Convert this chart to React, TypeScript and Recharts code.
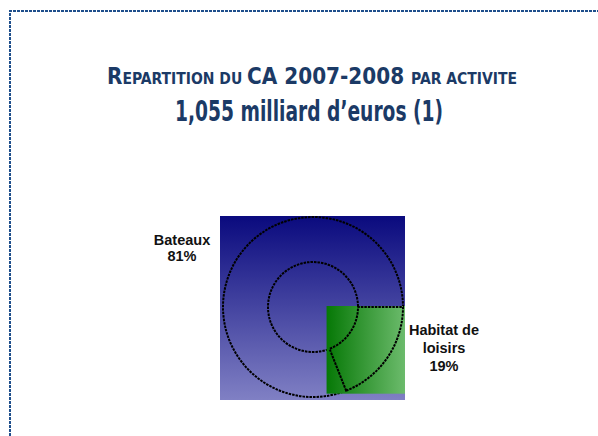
import { PieChart, Pie } from "recharts";

const activities = ["Bateaux", "Habitat de loisirs"];
const shares = [81, 19];
const labelLines = [["Bateaux", "81%"], ["Habitat de", "loisirs", "19%"]];
const gradients = ["gradBlue", "gradGreen"];

const data = activities.map((name, i) => ({
  name,
  value: shares[i],
  lines: labelLines[i],
  grad: gradients[i],
}));

const RAD = Math.PI / 180;
const pt = (cx: number, cy: number, r: number, a: number) => [cx + r * Math.cos(-a * RAD), cy + r * Math.sin(-a * RAD)];

// fill drawn over the slice's bounding box, outline drawn dotted on top
function BoxSector(props: any) {
  const { cx, cy, innerRadius, outerRadius, startAngle, endAngle, payload } = props;
  const lo = Math.min(startAngle, endAngle);
  const hi = Math.max(startAngle, endAngle);
  const pts = [pt(cx, cy, innerRadius, lo), pt(cx, cy, innerRadius, hi), pt(cx, cy, outerRadius, lo), pt(cx, cy, outerRadius, hi)];
  for (let a = Math.ceil(lo / 90) * 90; a <= hi; a += 90) pts.push(pt(cx, cy, outerRadius, a));
  const xs = pts.map((p) => p[0]);
  const ys = pts.map((p) => p[1]);
  const x0 = Math.min(...xs) - 3;
  const y0 = Math.min(...ys) - 1;
  const x1 = Math.max(...xs) + 2;
  const y1 = Math.max(...ys) + 3;
  const large = hi - lo > 180 ? 1 : 0;
  const [ox1, oy1] = pt(cx, cy, outerRadius, startAngle);
  const [ox2, oy2] = pt(cx, cy, outerRadius, endAngle);
  const [ix1, iy1] = pt(cx, cy, innerRadius, endAngle);
  const [ix2, iy2] = pt(cx, cy, innerRadius, startAngle);
  const sweep = endAngle > startAngle ? 0 : 1;
  const d = `M${ox1},${oy1} A${outerRadius},${outerRadius} 0 ${large} ${sweep} ${ox2},${oy2} L${ix1},${iy1} A${innerRadius},${innerRadius} 0 ${large} ${1 - sweep} ${ix2},${iy2} Z`;
  return (
    <g>
      <rect x={x0} y={y0} width={x1 - x0} height={y1 - y0} fill={`url(#${payload.grad})`} />
      <path d={d} fill="none" stroke="#000" strokeWidth={2} strokeDasharray="2.5 1" />
    </g>
  );
}

const labelPos: Record<string, { x: number; y: number; gap: number }> = {
  Bateaux: { x: 182, y: 245, gap: 16 },
  "Habitat de loisirs": { x: 444, y: 335, gap: 18 },
};

function SliceLabel(props: any) {
  const p = labelPos[props.payload.name];
  return (
    <text x={p.x} y={p.y} textAnchor="middle" fontFamily="'Liberation Sans', Arial, sans-serif" fontWeight="bold" fontSize={14.5} fill="#111">
      {props.payload.lines.map((l: string, i: number) => (
        <tspan key={i} x={p.x} dy={i === 0 ? 0 : p.gap}>{l}</tspan>
      ))}
    </text>
  );
}

export default function App() {
  const titleFont = "'Liberation Sans Narrow', 'DejaVu Sans Condensed', sans-serif";
  return (
    <div style={{ position: "absolute", left: 0, top: 0, width: 598, height: 436, background: "#fff", overflow: "hidden" }}>
      <svg width={598} height={436} style={{ position: "absolute", left: 0, top: 0 }}>
        <path d="M10,620 L10,11 L620,11" fill="none" stroke="#1f4f8c" strokeWidth={2} strokeDasharray="3 1" />
        <text x={107} y={84} textLength={410} lengthAdjust="spacingAndGlyphs" fontFamily={titleFont} fontWeight="bold" fill="#1b3a66">
          <tspan fontSize={23}>R</tspan>
          <tspan fontSize={16}>EPARTITION DU </tspan>
          <tspan fontSize={23}>CA 2007-2008 </tspan>
          <tspan fontSize={16}>PAR ACTIVITE</tspan>
        </text>
        <text x={175} y={121} textLength={268} lengthAdjust="spacingAndGlyphs" fontFamily={titleFont} fontWeight="bold" fontSize={29} fill="#1b3a66">
          1,055 milliard d’euros (1)
        </text>
      </svg>
      <div style={{ position: "absolute", left: 0, top: 0 }}>
        <PieChart width={598} height={436} margin={{ top: 0, right: 0, bottom: 0, left: 0 }}>
          <defs>
            <linearGradient id="gradBlue" x1="0" y1="0" x2="0" y2="1">
              <stop offset="0%" stopColor="#0a0a7e" />
              <stop offset="100%" stopColor="#8080c4" />
            </linearGradient>
            <linearGradient id="gradGreen" x1="0" y1="0" x2="1" y2="0">
              <stop offset="0%" stopColor="#067806" />
              <stop offset="100%" stopColor="#6cbb6c" />
            </linearGradient>
          </defs>
          <Pie
            data={data}
            dataKey="value"
            nameKey="name"
            cx={313}
            cy={307}
            innerRadius={45}
            outerRadius={90}
            startAngle={-360}
            endAngle={0}
            stroke="none"
            shape={BoxSector}
            label={SliceLabel}
            labelLine={false}
            isAnimationActive={false}
          />
        </PieChart>
      </div>
    </div>
  );
}
